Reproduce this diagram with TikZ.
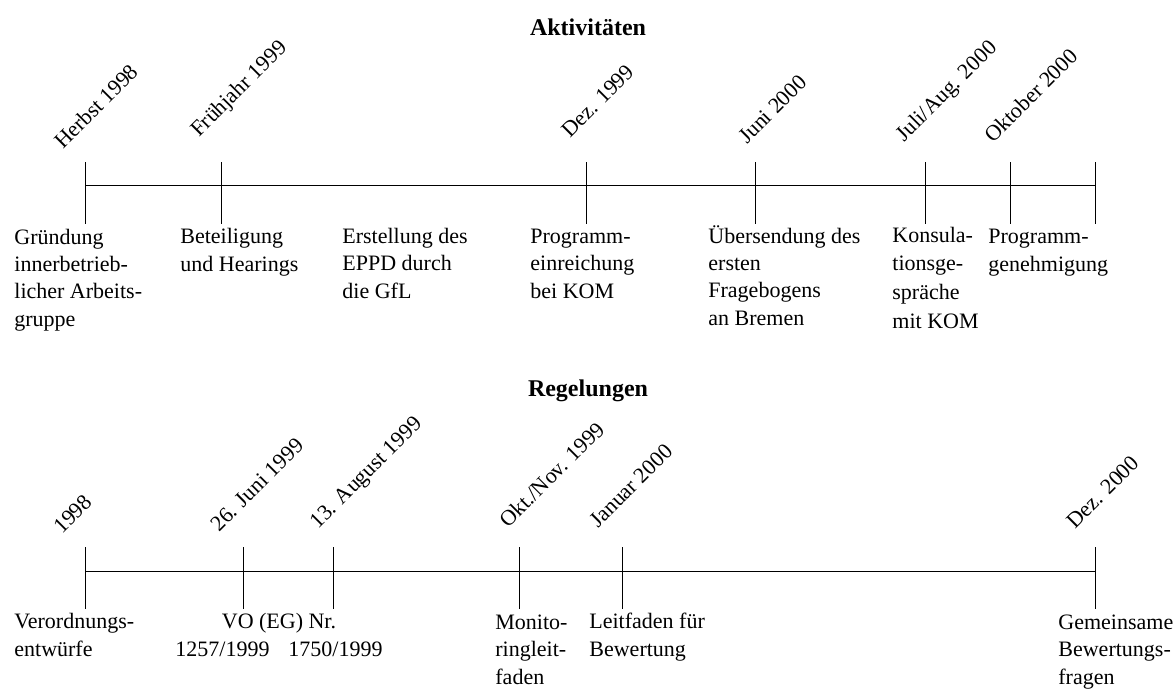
\documentclass[tikz,border=0pt]{standalone}
\usepackage{fontspec}
\setmainfont{Liberation Serif}
\begin{document}
\begin{tikzpicture}[x=0.5pt, y=-0.5pt,
		every node/.style={inner sep=0pt, font=\fontsize{11}{13.6}\selectfont},
		heading/.style={font=\fontsize{12}{14}\selectfont\bfseries},
		datelabel/.style={anchor=base west, rotate=45},
		eventtext/.style={anchor=base west, align=left}]
	\useasboundingbox (0,0) rectangle (1176,693);

	% headings
	\draw	(588,35)	node[heading, anchor=base] (aktiv) {Aktivitäten}
			(588,396)	node[heading, anchor=base] (regel) {Regelungen};

	% timeline of the activities
	\draw	(85,185) -- (1095,185);
	\draw	(85,162) -- (85,224)
			(221,162) -- (221,224)
			(586,162) -- (586,224)
			(755,162) -- (755,224)
			(925,162) -- (925,224)
			(1010,162) -- (1010,224)
			(1095,162) -- (1095,224);

	% dates of the activities
	\draw	(63,150)	node[datelabel] (herbst) {Herbst 1998}
			(199,138)	node[datelabel] (fruehjahr) {Frühjahr 1999}
			(570,139)	node[datelabel] (dez99) {Dez. 1999}
			(747,145)	node[datelabel] (juni00) {Juni 2000}
			(904,143)	node[datelabel] (juliaug) {Juli/Aug. 2000}
			(993,144)	node[datelabel] (okt00) {Oktober 2000};

	% activities (base = baseline of the last line)
	\draw	(14,326)	node[eventtext] (gruendung) {Gründung\\innerbetrieb-\\licher Arbeits-\\gruppe}
			(180,271)	node[eventtext] (beteil) {Beteiligung\\und Hearings}
			(342,298)	node[eventtext] (erstell) {Erstellung des\\EPPD durch\\die GfL}
			(530,298)	node[eventtext] (einreich) {Programm-\\einreichung\\bei KOM}
			(708,325)	node[eventtext] (uebers) {Übersendung des\\ersten\\Fragebogens\\an Bremen}
			(892,328)	node[eventtext, font=\fontsize{11}{14.3}\selectfont] (konsul) {Konsula-\\tionsge-\\spräche\\mit KOM}
			(988,271)	node[eventtext] (genehm) {Programm-\\genehmigung};

	% timeline of the regulations
	\draw	(85,571) -- (1095,571);
	\draw	(85,547) -- (85,609)
			(243,547) -- (243,609)
			(333,547) -- (333,609)
			(519,547) -- (519,609)
			(622,547) -- (622,609)
			(1095,547) -- (1095,609);

	% dates of the regulations
	\draw	(62,535)	node[datelabel] (jahr98) {1998}
			(219,533)	node[datelabel] (juni99) {26. Juni 1999}
			(318,530)	node[datelabel] (aug99) {13. August 1999}
			(508,529)	node[datelabel] (oktnov) {Okt./Nov. 1999}
			(598,529)	node[datelabel] (jan00) {Januar 2000}
			(1075,530)	node[datelabel] (dez00) {Dez. 2000};

	% regulations (base = baseline of the last line)
	\draw	(14,656)	node[eventtext] (entwuerfe) {Verordnungs-\\entwürfe}
			(279,656)	node[anchor=base, align=center] (vo) {VO (EG) Nr.\\1257/1999\hspace{9.5pt}1750/1999}
			(495,684)	node[eventtext] (monitor) {Monito-\\ringleit-\\faden}
			(589,656)	node[eventtext] (leitfaden) {Leitfaden für\\Bewertung}
			(1058,684)	node[eventtext] (bewfragen) {Gemeinsame\\Bewertungs-\\fragen};
\end{tikzpicture}
\end{document}
